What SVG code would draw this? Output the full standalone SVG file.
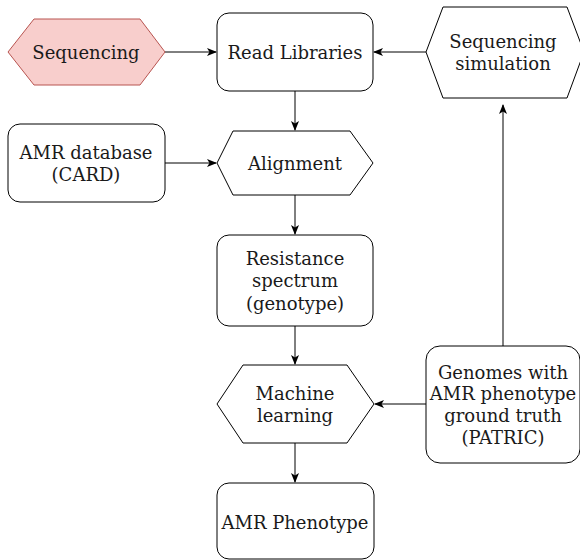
<svg xmlns="http://www.w3.org/2000/svg" width="580" height="560" viewBox="0 0 580 560">
<style>
.n{fill:#fff;stroke:#000;stroke-width:1}
.p{fill:#f8cecc;stroke:#b85450;stroke-width:1}
text{font-family:"DejaVu Serif",serif;font-size:18px;fill:#1a1a1a;text-anchor:middle;dominant-baseline:central}
.c{fill:none;stroke:#000;stroke-width:1;marker-end:url(#a)}
</style>
<defs>
<marker id="a" viewBox="0 0 10 10" refX="9" refY="5" markerWidth="10" markerHeight="10" markerUnits="userSpaceOnUse" orient="auto">
<path d="M0,1 L10,5 L0,9 L2.5,5 Z" fill="#000"/>
</marker>
</defs>
<g id="connectors">
<path class="c" d="M165,52 H216"/>
<path class="c" d="M426,52 H374"/>
<path class="c" d="M295,91 V130"/>
<path class="c" d="M165,163 H216"/>
<path class="c" d="M295,195 V234"/>
<path class="c" d="M295,326 V364"/>
<path class="c" d="M426,404 H375"/>
<path class="c" d="M503,346 V105"/>
<path class="c" d="M295,443 V482"/>
</g>
<g id="sequencing">
<polygon class="p" points="8,52 34,19 140,19 165,52 140,85 34,85"/>
<text x="86" y="52">Sequencing</text>
</g>
<g id="read-libraries">
<rect class="n" x="217" y="13" width="156" height="78" rx="12"/>
<text x="295" y="52">Read Libraries</text>
</g>
<g id="sequencing-simulation">
<polygon class="n" points="426,52 443,7 567,7 584,52 567,98 443,98"/>
<text x="503" y="41">Sequencing</text>
<text x="503" y="63">simulation</text>
</g>
<g id="amr-database">
<rect class="n" x="8" y="124" width="157" height="78" rx="12"/>
<text x="86" y="152">AMR database</text>
<text x="86" y="174">(CARD)</text>
</g>
<g id="alignment">
<polygon class="n" points="217,163 233,131 350,131 373,163 350,195 233,195"/>
<text x="295" y="163">Alignment</text>
</g>
<g id="resistance-spectrum">
<rect class="n" x="217" y="235" width="156" height="91" rx="12"/>
<text x="295" y="258">Resistance</text>
<text x="295" y="280">spectrum</text>
<text x="295" y="303">(genotype)</text>
</g>
<g id="machine-learning">
<polygon class="n" points="217,404 243,365 347,365 374,404 347,443 243,443"/>
<text x="295" y="393">Machine</text>
<text x="295" y="415">learning</text>
</g>
<g id="genomes">
<rect class="n" x="426" y="346" width="154" height="117" rx="14"/>
<text x="503" y="372">Genomes with</text>
<text x="503" y="393">AMR phenotype</text>
<text x="503" y="415">ground truth</text>
<text x="503" y="437">(PATRIC)</text>
</g>
<g id="amr-phenotype">
<rect class="n" x="217" y="483" width="157" height="76" rx="12"/>
<text x="295" y="522">AMR Phenotype</text>
</g>
</svg>
